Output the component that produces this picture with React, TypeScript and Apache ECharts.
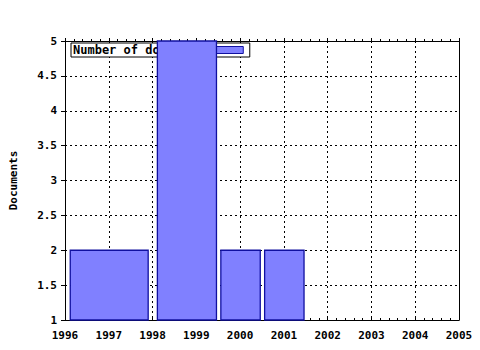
import React, { useEffect, useRef } from "react";
import * as echarts from "echarts";

const binStart = [1996.12, 1998.11, 1999.56, 2000.56];
const binEnd = [1997.9, 1999.46, 2000.46, 2001.46];
const counts = [2, 5, 2, 2];
const seriesName = "Number of documents";
const yAxisName = "Documents";

const FONT = "DejaVu Sans Mono";

export default function App() {
  const ref = useRef<HTMLDivElement>(null);
  useEffect(() => {
    if (!ref.current) return;
    const chart = echarts.init(ref.current, null, { renderer: "svg" });
    const data = binStart.map((s, i) => [s, binEnd[i], counts[i]]);
    const gridLine = { show: true, lineStyle: { color: "#000", type: [2, 3] as any, width: 1 } };
    chart.setOption({
      animation: false,
      backgroundColor: "#fff",
      textStyle: { fontFamily: FONT, fontWeight: "bold", color: "#000" },
      grid: { left: 64, right: 21, top: 41, bottom: 30, containLabel: false },
      legend: {
        show: true,
        z: 1,
        left: 71,
        top: 43,
        orient: "horizontal",
        align: "right",
        padding: [1, 6, 1, 2],
        backgroundColor: "#fff",
        borderColor: "#000",
        borderWidth: 1,
        borderRadius: 0,
        itemWidth: 28,
        itemHeight: 7,
        itemGap: 5,
        textStyle: { fontFamily: FONT, fontWeight: "bold", fontSize: 12, color: "#000", padding: [0, 0, 0, 0] },
        data: [
          {
            name: seriesName,
            icon: "rect",
            itemStyle: { color: "#8080ff", borderColor: "#1010a0", borderWidth: 1 },
          },
        ],
      },
      xAxis: [
        {
          type: "value",
          position: "bottom",
          min: 1996,
          max: 2005,
          interval: 1,
          axisLine: { show: true, onZero: false, lineStyle: { color: "#000", width: 1 } },
          axisTick: { show: true, inside: true, length: 4, lineStyle: { color: "#000" } },
          minorTick: { show: true, splitNumber: 5, length: 2, lineStyle: { color: "#000" } },
          axisLabel: {
            fontFamily: FONT,
            fontWeight: "bold",
            fontSize: 11,
            color: "#000",
            margin: 10,
            formatter: (v: number) => String(v),
          },
          splitLine: gridLine,
        },
        {
          type: "value",
          position: "top",
          min: 1996,
          max: 2005,
          interval: 1,
          axisLine: { show: true, onZero: false, lineStyle: { color: "#000", width: 1 } },
          axisTick: { show: true, inside: false, length: 3, lineStyle: { color: "#000" } },
          minorTick: { show: true, splitNumber: 5, length: 2, lineStyle: { color: "#000" } },
          axisLabel: { show: false },
          splitLine: { show: false },
        },
      ],
      yAxis: [
        {
          type: "value",
          position: "left",
          min: 1,
          max: 5,
          interval: 0.5,
          name: yAxisName,
          nameLocation: "middle",
          nameGap: 46,
          nameTextStyle: { fontFamily: FONT, fontWeight: "bold", fontSize: 11, color: "#000" },
          axisLine: { show: true, onZero: false, lineStyle: { color: "#000", width: 1 } },
          axisTick: { show: true, inside: false, length: 4, lineStyle: { color: "#000" } },
          axisLabel: {
            fontFamily: FONT,
            fontWeight: "bold",
            fontSize: 11,
            color: "#000",
            margin: 8,
            formatter: (v: number) => String(v),
          },
          splitLine: gridLine,
        },
        {
          type: "value",
          position: "right",
          min: 1,
          max: 5,
          interval: 0.5,
          axisLine: { show: true, onZero: false, lineStyle: { color: "#000", width: 1 } },
          axisTick: { show: false },
          axisLabel: { show: false },
          splitLine: { show: false },
        },
      ],
      series: [
        {
          name: seriesName,
          type: "custom",
          z: 5,
          xAxisIndex: 0,
          yAxisIndex: 0,
          itemStyle: { color: "#8080ff", borderColor: "#1010a0", borderWidth: 1 },
          encode: { x: [0, 1], y: 2 },
          data,
          renderItem: (params: any, api: any) => {
            const p0 = api.coord([api.value(0), api.value(2)]);
            const p1 = api.coord([api.value(1), 1]);
            return {
              type: "rect",
              shape: { x: p0[0], y: p0[1], width: p1[0] - p0[0], height: p1[1] - p0[1] },
              style: { fill: "#8080ff", stroke: "#1010a0", lineWidth: 1.3 },
            };
          },
        },
      ],
    });
    return () => chart.dispose();
  }, []);
  return <div ref={ref} style={{ width: 480, height: 350, position: "absolute", left: 0, top: 0 }} />;
}
